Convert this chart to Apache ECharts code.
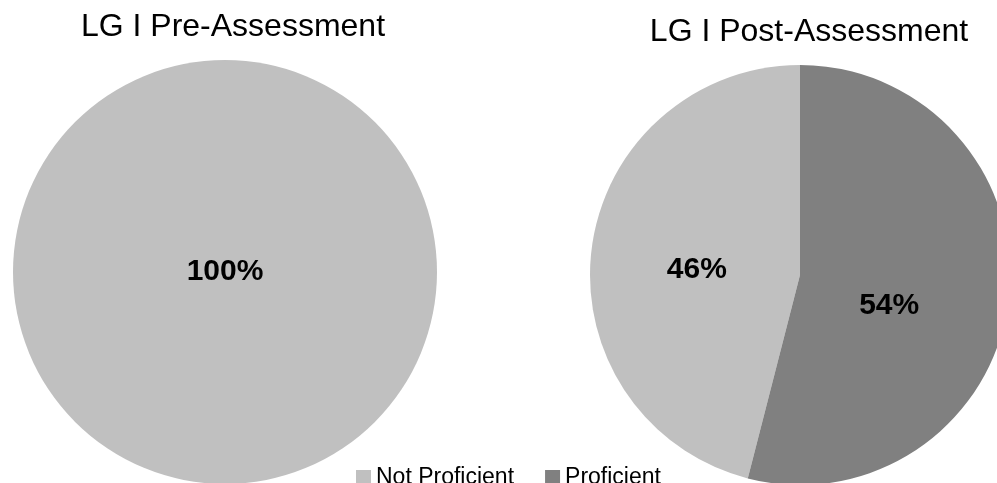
<!DOCTYPE html>
<html>
<head>
<meta charset="utf-8">
<script src="https://cdn.jsdelivr.net/npm/echarts@6/dist/echarts.min.js"></script>
<style>
html, body { margin: 0; padding: 0; background: #fff; }
#chart { width: 997px; height: 483px; }
</style>
</head>
<body>
<div id="chart"></div>
<script>
var categories = ['Not Proficient', 'Proficient'];
var preValues = [100, 0];
var postValues = [46, 54];
var titles = ['LG I Pre-Assessment', 'LG I Post-Assessment'];
var colors = ['#c0c0c0', '#808080'];

var myChart = echarts.init(document.getElementById('chart'));

var labelBase = {
	show: true,
	formatter: '{d}%',
	fontFamily: 'Arial, Liberation Sans, sans-serif',
	fontWeight: 'bold',
	fontSize: 30,
	color: '#000'
};

var option = {
	animation: false,
	color: colors,
	title: [{
		text: titles[0], left: 233, top: 11, textAlign: 'center', padding: 0,
		textStyle: { fontFamily: 'Arial, Liberation Sans, sans-serif', fontWeight: 'normal', fontSize: 32, color: '#000' }
	}, {
		text: titles[1], left: 809, top: 16, textAlign: 'center', padding: 0,
		textStyle: { fontFamily: 'Arial, Liberation Sans, sans-serif', fontWeight: 'normal', fontSize: 32, color: '#000' }
	}],
	legend: {
		data: categories,
		left: 356, top: 466,
		itemWidth: 15, itemHeight: 15, itemGap: 31,
		icon: 'rect',
		padding: 0,
		textStyle: { fontFamily: 'Arial, Liberation Sans, sans-serif', fontSize: 23, color: '#000' }
	},
	series: [{
		type: 'pie',
		center: [225, 272],
		radius: 212,
		startAngle: 90,
		clockwise: false,
		silent: true,
		label: Object.assign({}, labelBase, { position: 'center' }),
		labelLine: { show: false },
		data: categories.map(function (c, i) { return { name: c, value: preValues[i] }; })
			.filter(function (d) { return d.value > 0; })
	}, {
		type: 'pie',
		center: [800, 275],
		radius: 210,
		startAngle: 90,
		clockwise: false,
		silent: true,
		label: Object.assign({}, labelBase, { position: 'inside' }),
		labelLine: { show: false },
		data: categories.map(function (c, i) {
			return {
				name: c, value: postValues[i],
				label: { offset: i === 0 ? [4, 8] : [-18, 17] }
			};
		})
	}]
};

myChart.setOption(option, true);
</script>
</body>
</html>
